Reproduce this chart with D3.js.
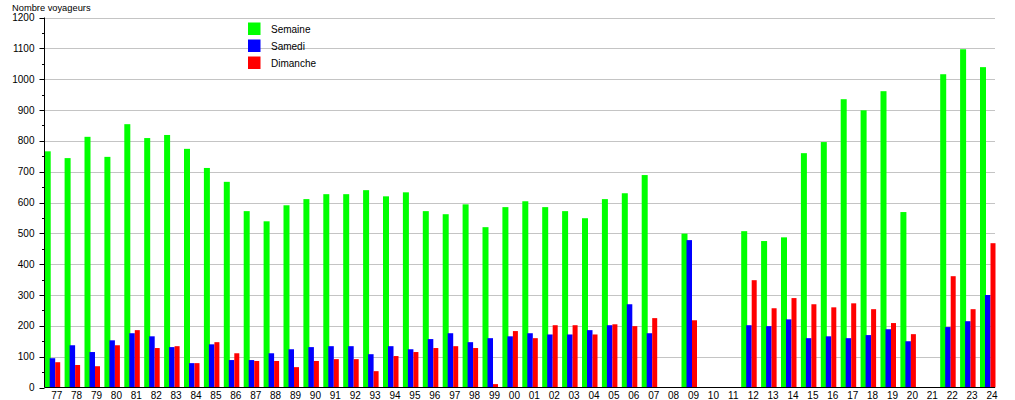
<!DOCTYPE html>
<html>
<head>
<meta charset="utf-8">
<script src="https://cdn.jsdelivr.net/npm/d3@7"></script>
<style>
body{margin:0;background:#fff;}
svg{display:block;font-family:"Liberation Sans",Arial,sans-serif;}
</style>
</head>
<body>
<svg id="chart" width="1015" height="400"></svg>
<script>
const categories = ["77","78","79","80","81","82","83","84","85","86","87","88","89","90","91","92","93","94","95","96","97","98","99","00","01","02","03","04","05","06","07","08","09","10","11","12","13","14","15","16","17","18","19","20","21","22","23","24"];
const semaine = [766,744,813,748,854,809,819,774,712,667,572,539,591,611,627,627,640,620,633,572,562,594,520,585,604,585,572,549,611,630,689,null,499,null,null,507,475,487,760,796,935,899,961,569,null,1016,1097,1039];
const samedi  = [95,137,115,153,176,166,131,79,140,89,89,111,124,131,134,134,108,134,124,157,176,147,160,166,176,172,172,186,202,270,176,null,478,null,null,202,199,221,160,166,160,170,189,150,null,196,215,300];
const dimanche= [82,73,69,137,186,128,134,79,147,111,86,86,66,86,92,92,53,102,115,128,134,128,11,183,160,202,202,172,205,199,225,null,218,null,null,348,257,290,270,260,273,254,209,173,null,361,254,468];
const seriesNames = ["Semaine","Samedi","Dimanche"];
const seriesColors = ["#00ff00","#0000ff","#ff0000"];
const yTicks = [0,100,200,300,400,500,600,700,800,900,1000,1100,1200];
const yTitle = "Nombre voyageurs";

(function(){
const svg = d3.select("#chart");
const pl = 44.5, pr = 995, pt = 17.5, pb = 387.5;

const x = d3.scaleBand().domain(categories).range([44.7, 44.7 + 48*19.9]).padding(0);
const y = d3.scaleLinear().domain([0,1200]).range([pb, pt]);

// gridlines
svg.append("g").selectAll("line").data(yTicks.filter(d=>d>0)).join("line")
  .attr("x1", pl).attr("x2", pr)
  .attr("y1", d=>Math.round(y(d))+0.5).attr("y2", d=>Math.round(y(d))+0.5)
  .attr("stroke","#c4c4c4").attr("stroke-width",1);

// legend
const lg = svg.append("g");
seriesNames.forEach((n,i)=>{
  lg.append("rect").attr("x",248).attr("y",22.5+i*17).attr("width",12.5).attr("height",12.5).attr("fill",seriesColors[i]);
  lg.append("text").attr("x",271).attr("y",29+i*17).attr("dy","0.35em").attr("font-size","10px").attr("fill","#000").text(n);
});

// bars
const data = categories.map((c,i)=>({c, vals:[semaine[i],samedi[i],dimanche[i]]}));
const offsets = [0,5,10.5];
const widths = [6,5.5,5];
const g = svg.append("g");
[0,1,2].forEach(s=>{
  g.selectAll(null).data(data.filter(d=>d.vals[s]!=null)).join("rect")
    .attr("x", d=>x(d.c)+offsets[s])
    .attr("width", widths[s])
    .attr("y", d=>y(d.vals[s]))
    .attr("height", d=>y(0)-y(d.vals[s]))
    .attr("fill", seriesColors[s]);
});

// y axis
const yAxis = svg.append("g");
yAxis.append("line").attr("x1",pl).attr("x2",pl).attr("y1",pt).attr("y2",pb).attr("stroke","#000");
const minor = d3.range(50,1200,100);
yAxis.selectAll(".mn").data(minor).join("line").attr("class","mn")
  .attr("x1",pl-2.5).attr("x2",pl).attr("y1",d=>Math.round(y(d))+0.5).attr("y2",d=>Math.round(y(d))+0.5).attr("stroke","#000");
yAxis.selectAll(".mj").data(yTicks).join("line").attr("class","mj")
  .attr("x1",pl-5).attr("x2",pl).attr("y1",d=>Math.round(y(d))+0.5).attr("y2",d=>Math.round(y(d))+0.5).attr("stroke","#000");
yAxis.selectAll("text").data(yTicks).join("text")
  .attr("x",34.5).attr("y",d=>y(d)).attr("dy","0.35em").attr("text-anchor","end")
  .attr("font-size","10px").attr("fill","#000").text(d=>d);

// x axis baseline
svg.append("line").attr("x1",pl).attr("x2",pr).attr("y1",pb).attr("y2",pb).attr("stroke","#000");
svg.append("g").selectAll("text").data(categories).join("text")
  .attr("x",d=>x(d)+12).attr("y",399).attr("text-anchor","middle")
  .attr("font-size","10px").attr("fill","#000").text(d=>d);

svg.append("text").attr("x",12).attr("y",10.5).attr("font-size","9.3px").attr("fill","#000").text(yTitle);
})();
</script>
</body>
</html>
